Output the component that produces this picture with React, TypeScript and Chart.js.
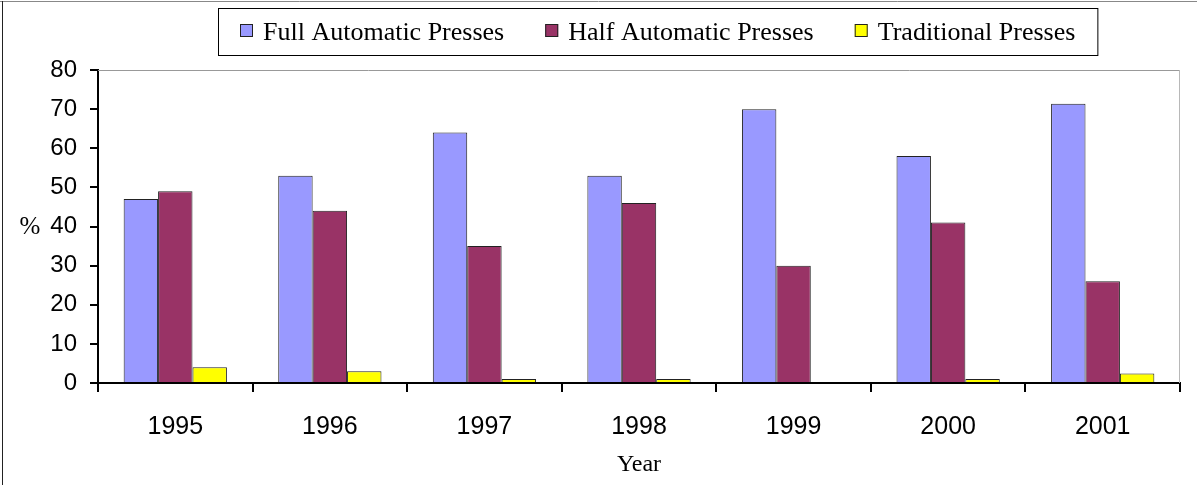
import React, { useEffect, useRef } from 'react';
import { Chart, registerables } from 'chart.js';

Chart.register(...registerables);

const years = ['1995', '1996', '1997', '1998', '1999', '2000', '2001'];
const fullAutomatic = [47, 53, 64, 53, 70, 58, 71.4];
const halfAutomatic = [49, 44, 35, 46, 30, 41, 26];
const traditional = [4, 3, 1, 1, 0, 1, 2.4];
const seriesLabels = ['Full Automatic Presses', 'Half Automatic Presses', 'Traditional Presses'];
const seriesColors = ['#9999FF', '#993366', '#FFFF00'];
const yAxisMin = 0;
const yAxisMax = 80;
const yAxisStep = 10;
const yTitle = '%';
const xTitle = 'Year';

const SANS = '"Liberation Sans", Arial, sans-serif';
const SERIF = '"Liberation Serif", "Times New Roman", serif';

const decorPlugin = {
  id: 'decor',
  beforeDraw(chart: any) {
    const { ctx, width, height } = chart;
    ctx.save();
    ctx.fillStyle = '#ffffff';
    ctx.fillRect(0, 0, width, height);
    ctx.restore();
  },
  afterDraw(chart: any) {
    const { ctx, chartArea: a } = chart;
    ctx.save();
    // plot top & right border
    ctx.lineWidth = 1;
    ctx.strokeStyle = '#999999';
    ctx.beginPath();
    ctx.moveTo(a.left, Math.round(a.top) + 0.5);
    ctx.lineTo(a.right, Math.round(a.top) + 0.5);
    ctx.stroke();
    ctx.strokeStyle = '#b8b8b8';
    ctx.beginPath();
    ctx.moveTo(Math.round(a.right) - 0.5, a.top);
    ctx.lineTo(Math.round(a.right) - 0.5, a.bottom);
    ctx.stroke();

    // outer frame (left and top edges)
    ctx.strokeStyle = '#888888';
    ctx.beginPath();
    ctx.moveTo(0, 1.5);
    ctx.lineTo(chart.width, 1.5);
    ctx.stroke();
    ctx.strokeStyle = '#222222';
    ctx.beginPath();
    ctx.moveTo(2.5, 1);
    ctx.lineTo(2.5, chart.height);
    ctx.stroke();

    // y axis title "%"
    const yScale = chart.scales.y;
    ctx.fillStyle = '#000';
    ctx.font = `25px ${SERIF}`;
    ctx.textAlign = 'center';
    ctx.textBaseline = 'middle';
    ctx.fillText(yTitle, 30, yScale.getPixelForValue(40) + 1);

    // legend
    ctx.font = `26px ${SERIF}`;
    ctx.textAlign = 'left';
    ctx.textBaseline = 'alphabetic';
    const boxLeft = 218;
    const boxTop = 8;
    const sq = 13;
    const gapText = 10;
    const gapItem = 41;
    const sidePad = 22;
    const datasets = chart.data.datasets;
    let total = 0;
    datasets.forEach((d: any, i: number) => {
      total += sq + gapText + ctx.measureText(d.label).width;
      if (i < datasets.length - 1) total += gapItem;
    });
    ctx.fillStyle = '#fff';
    ctx.fillRect(boxLeft, boxTop, total + sidePad * 2, 47);
    ctx.strokeStyle = '#000';
    ctx.lineWidth = 1;
    ctx.strokeRect(boxLeft + 0.5, boxTop + 0.5, total + sidePad * 2, 47);
    let x = boxLeft + sidePad;
    datasets.forEach((d: any) => {
      ctx.fillStyle = d.backgroundColor;
      ctx.fillRect(x, 24, sq, sq);
      ctx.strokeStyle = '#222';
      ctx.strokeRect(x + 0.5, 24.5, sq - 1, sq - 1);
      ctx.fillStyle = '#000';
      ctx.fillText(d.label, x + sq + gapText, 40);
      x += sq + gapText + ctx.measureText(d.label).width + gapItem;
    });
    ctx.restore();
  },
};

export default function App() {
  const canvasRef = useRef<HTMLCanvasElement | null>(null);

  useEffect(() => {
    if (!canvasRef.current) return;
    const seriesValues = [fullAutomatic, halfAutomatic, traditional];
    const chart = new Chart(canvasRef.current, {
      type: 'bar',
      data: {
        labels: years,
        datasets: seriesValues.map((vals, i) => ({
          label: seriesLabels[i],
          data: vals,
          backgroundColor: seriesColors[i],
          borderColor: '#222222',
          borderWidth: 1,
          categoryPercentage: 0.668,
          barPercentage: 1,
        })),
      },
      options: {
        responsive: false,
        animation: false,
        devicePixelRatio: 1,
        layout: { padding: { top: 70, right: 17, left: 0, bottom: 0 } },
        plugins: {
          legend: { display: false },
          tooltip: { enabled: false },
          title: { display: false },
        },
        scales: {
          x: {
            offset: true,
            grid: {
              display: true,
              offset: true,
              drawOnChartArea: false,
              drawTicks: true,
              tickLength: 9,
              color: '#000',
              lineWidth: 2,
            },
            border: { display: true, color: '#000', width: 2 },
            ticks: { color: '#000', font: { family: SANS, size: 25 }, padding: 20 },
            title: {
              display: true,
              text: xTitle,
              color: '#000',
              font: { family: SERIF, size: 24 },
              padding: { top: 0, bottom: 6 },
            },
            afterFit: (s: any) => {
              s.height = 102;
            },
          },
          y: {
            min: yAxisMin,
            max: yAxisMax,
            ticks: { stepSize: yAxisStep, color: '#000', font: { family: SANS, size: 24 }, padding: 13 },
            grid: {
              display: true,
              drawOnChartArea: false,
              drawTicks: true,
              tickLength: 8,
              color: '#000',
              lineWidth: 2,
            },
            border: { display: true, color: '#000', width: 2 },
            afterFit: (s: any) => {
              s.width = 98;
            },
          },
        },
      } as any,
      plugins: [decorPlugin],
    });
    return () => chart.destroy();
  }, []);

  return (
    <div style={{ position: 'absolute', left: 0, top: 0, width: 1197, height: 485, background: '#fff' }}>
      <canvas ref={canvasRef} width={1197} height={485} style={{ display: 'block' }} />
    </div>
  );
}
